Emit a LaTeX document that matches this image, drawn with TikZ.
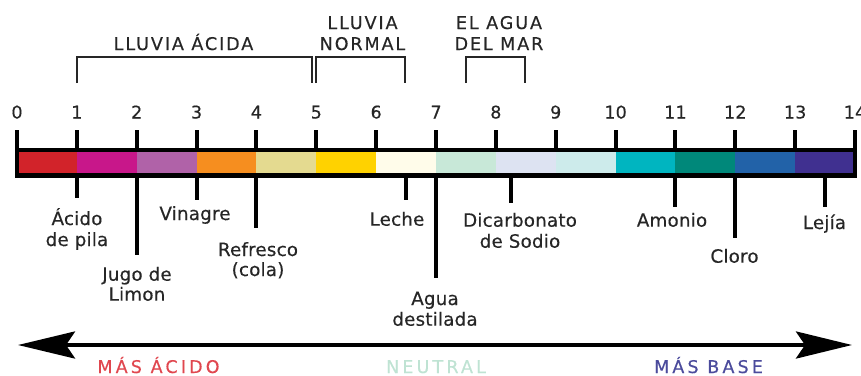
\documentclass[tikz,border=0pt]{standalone}
\usepackage{fontspec}
\setmainfont{DejaVu Sans}[LetterSpace=1,FakeBold=0.4]
\newfontfamily\capsA{DejaVu Sans}[LetterSpace=11,FakeBold=0.4]
\newfontfamily\capsB{DejaVu Sans}[LetterSpace=18,FakeBold=0.3]
\usetikzlibrary{arrows.meta}
\definecolor{txt}{HTML}{262626}
\definecolor{c0}{HTML}{D2232A}
\definecolor{c1}{HTML}{C8178A}
\definecolor{c2}{HTML}{B062A8}
\definecolor{c3}{HTML}{F68E1F}
\definecolor{c4}{HTML}{E4DA90}
\definecolor{c5}{HTML}{FFD200}
\definecolor{c6}{HTML}{FFFCEA}
\definecolor{c7}{HTML}{C8E8D8}
\definecolor{c8}{HTML}{DDE3F2}
\definecolor{c9}{HTML}{CDEBEB}
\definecolor{c10}{HTML}{00B5C0}
\definecolor{c11}{HTML}{00887A}
\definecolor{c12}{HTML}{2262A8}
\definecolor{c13}{HTML}{403090}
\definecolor{acid}{HTML}{E0474F}
\definecolor{neut}{HTML}{BFE3D3}
\definecolor{base}{HTML}{4B4B9C}
\tikzset{
  lbl/.style={anchor=base, inner sep=0pt, text=txt, font=\fontsize{18.3}{20.5}\selectfont},
  num/.style={anchor=base, inner sep=0pt, text=txt, font=\fontsize{17.5}{20.5}\selectfont},
  captxt/.style={anchor=base, inner sep=0pt, text=txt, font=\capsA\fontsize{17.5}{21}\selectfont},
  bottomtxt/.style={anchor=base, inner sep=0pt, font=\capsB\fontsize{17.5}{21}\selectfont},
  tickline/.style={line width=4pt, black},
  bracket/.style={line width=2pt, txt},
}
\begin{document}
\begin{tikzpicture}[x=1pt,y=-1pt]
\useasboundingbox (0,0) rectangle (861,375);
\def\px#1{\fpeval{17+59.857*(#1)}}
% colored segments
\foreach \k in {0,...,13}{
  \fill[c\k] (\px{\k},150) rectangle (\px{\k+1},175.5);
}
\draw[line width=4.5pt] (\px{0},150) rectangle (\px{14},175.5);
% ticks above the bar and numbers
\foreach \k in {0,...,14}{
  \draw[tickline] (\px{\k},130) -- (\px{\k},152);
  \node[num] (n\k) at (\px{\k},118.5) {\k};
}
% ticks below
\foreach \p/\e in {1/198,2/255,3/200,4/228,6.5/200,7/278,8.25/203,11/207,12/238,13.5/207}{
  \draw[tickline] (\px{\p},174) -- (\px{\p},\e);
}
% top brackets
\draw[bracket] (77,83) -- (77,57) -- (312,57) -- (312,83);
\draw[bracket] (316,83) -- (316,57) -- (405,57) -- (405,83);
\draw[bracket] (466,83) -- (466,57) -- (525,57) -- (525,83);
\node[captxt] (la) at (183.5,50) {LLUVIA ÁCIDA};
\node[captxt] (ln1) at (362.5,29) {LLUVIA};
\node[captxt] (ln2) at (362.5,50) {NORMAL};
\node[captxt] (am1) at (499,29) {EL AGUA};
\node[captxt] (am2) at (499,50) {DEL MAR};
% labels
\node[lbl] (l1a) at (77,225) {Ácido};
\node[lbl] (l1b) at (77,246) {de pila};
\node[lbl] (l2a) at (137,280.7) {Jugo de};
\node[lbl] (l2b) at (137,300.7) {Limon};
\node[lbl] (l3) at (195,220) {Vinagre};
\node[lbl] (l4a) at (258,256) {Refresco};
\node[lbl] (l4b) at (258,276) {(cola)};
\node[lbl] (l5) at (397,225.7) {Leche};
\node[lbl] (l6a) at (435,305) {Agua};
\node[lbl] (l6b) at (435,325.7) {destilada};
\node[lbl] (l7a) at (520,226.7) {Dicarbonato};
\node[lbl] (l7b) at (520,247.7) {de Sodio};
\node[lbl] (l8) at (672,226.7) {Amonio};
\node[lbl] (l9) at (734.5,262.7) {Cloro};
\node[lbl] (l10) at (824.5,229) {Lejía};
% bottom arrow
\coordinate (aL) at (18,345);
\coordinate (aR) at (852,345);
\draw[line width=4pt, {Stealth[length=57pt,width=27pt,inset=9pt]}-{Stealth[length=56pt,width=27pt,inset=9pt]}] (aL) -- (aR);
\node[bottomtxt, text=acid] (ma) at (158.5,373) {MÁS ÁCIDO};
\node[bottomtxt, text=neut] (ne) at (436,373) {NEUTRAL};
\node[bottomtxt, text=base] (mb) at (708.5,373) {MÁS BASE};
\end{tikzpicture}
\end{document}
